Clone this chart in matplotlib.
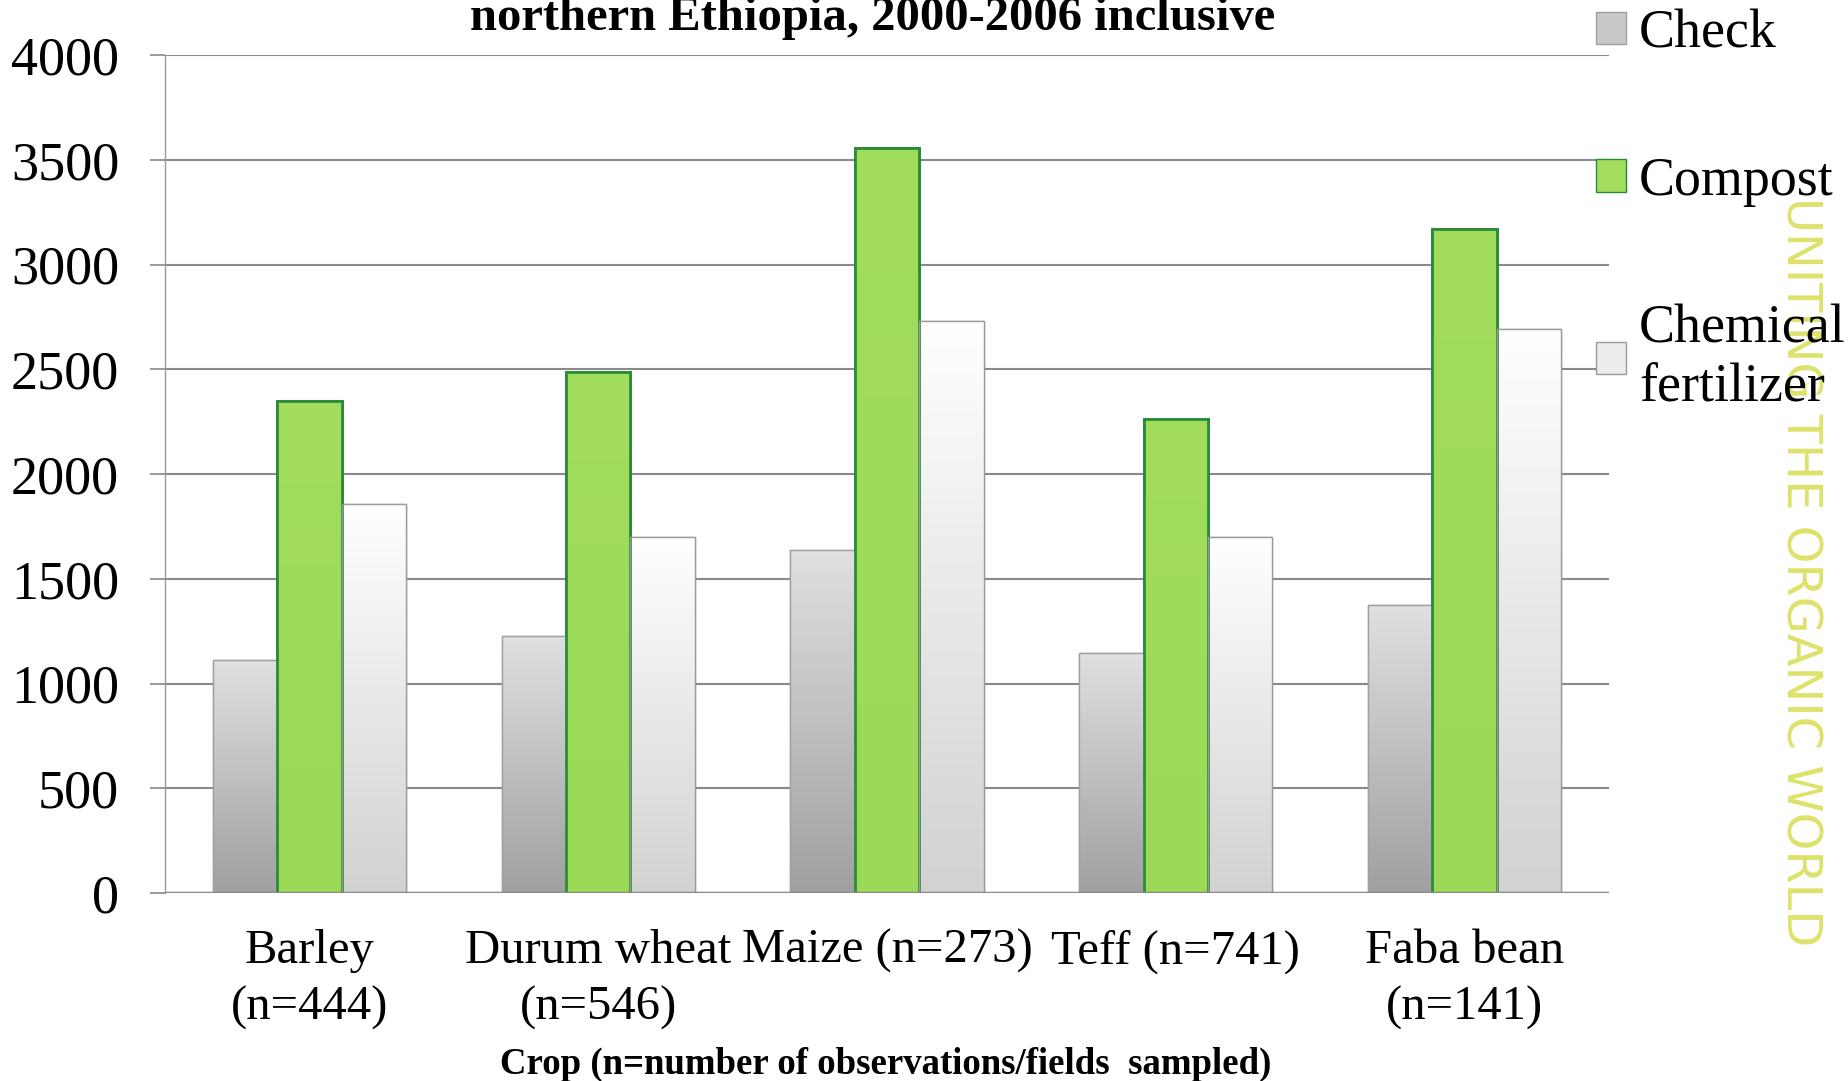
import numpy as np
import matplotlib
matplotlib.use("Agg")
import matplotlib.pyplot as plt
from matplotlib.patches import Patch
from matplotlib.colors import LinearSegmentedColormap

plt.rcParams['font.family'] = ['Liberation Serif', 'DejaVu Serif']

crops = ['Barley\n(n=444)', 'Durum wheat\n(n=546)', 'Maize (n=273)', 'Teff (n=741)', 'Faba bean\n(n=141)']
check = [1110, 1228, 1637, 1147, 1375]
compost = [2348, 2487, 3554, 2261, 3171]
chemical = [1857, 1700, 2730, 1701, 2693]
series_names = ['Check', 'Compost', 'Chemical\nfertilizer']
yticks = [0, 500, 1000, 1500, 2000, 2500, 3000, 3500, 4000]

fig = plt.figure(figsize=(18.48, 10.81), dpi=100)
ax = fig.add_axes([0.0893, 0.1739, 0.7814, 0.7752])

x = np.arange(len(crops))
w = 0.223

styles = [
    dict(top='#e0e0e0', bottom='#a0a0a0', edge='#a0a0a0', lw=1.0),
    dict(top='#a2dd5d', bottom='#9cd957', edge='#2a8c3a', lw=2.0),
    dict(top='#ffffff', bottom='#d2d2d2', edge='#9a9a9a', lw=1.0),
]

for i, (vals, st) in enumerate(zip([check, compost, chemical], styles)):
    bars = ax.bar(x + (i - 1) * w, vals, width=w, color=st['top'],
                  edgecolor=st['edge'], linewidth=st['lw'], zorder=3)
    cmap = LinearSegmentedColormap.from_list('g%d' % i, [st['bottom'], st['top']])
    grad = np.linspace(0, 1, 256).reshape(-1, 1)
    for b in bars:
        x0, y0 = b.get_x(), b.get_y()
        im = ax.imshow(grad, cmap=cmap, origin='lower', aspect='auto',
                       extent=[x0, x0 + b.get_width(), y0, y0 + b.get_height()],
                       zorder=3.5, interpolation='bilinear')
        im.set_clip_path(b)
        ax.bar(b.get_x() + b.get_width() / 2, b.get_height(), width=b.get_width(),
               facecolor='none', edgecolor=st['edge'], linewidth=st['lw'], zorder=4)

ax.set_xlim(-0.5, len(crops) - 0.5)
ax.set_ylim(0, 4000)
ax.set_yticks(yticks)
ax.set_xticks(x)
ax.set_xticklabels(crops, fontsize=35, linespacing=1.36)
ax.tick_params(axis='y', labelsize=39, length=11, width=1.2, color='#888888', pad=22)
ax.tick_params(axis='x', length=0, pad=26)

ax.yaxis.grid(True, color='#8a8a8a', linewidth=1.5, zorder=0)
ax.set_axisbelow(True)
for s in ['top', 'right', 'bottom']:
    ax.spines[s].set_visible(False)
ax.spines['left'].set_color('#999999')
ax.spines['left'].set_linewidth(1.0)
ax.axhline(0, color='#8a8a8a', linewidth=2.5, zorder=5)

fig.text(0.479, 0.0065, 'Crop (n=number of observations/fields  sampled)', fontsize=26.5,
         fontweight='bold', ha='center', va='baseline')
fig.text(0.472, 0.9727, 'northern Ethiopia, 2000-2006 inclusive', fontsize=35,
         fontweight='bold', ha='center', va='baseline')

handles = [Patch(facecolor=st['top'], edgecolor=st['edge']) for st in styles]
handles[0].set_facecolor('#c8c8c8')
handles[2].set_facecolor('#ececec')
fig.legend(handles, series_names, loc='upper left', bbox_to_anchor=(0.852, 1.012),
           frameon=False, fontsize=38.8, labelspacing=1.8, handlelength=0.55,
           handleheight=0.55, handletextpad=0.25, borderaxespad=0)

fig.text(0.974, 0.471, 'UNITING THE ORGANIC WORLD', rotation=-90, color='#dde26a',
         fontsize=34.5, family=['DejaVu Sans'], ha='center', va='center')

fig.savefig('out.png', dpi=100)
